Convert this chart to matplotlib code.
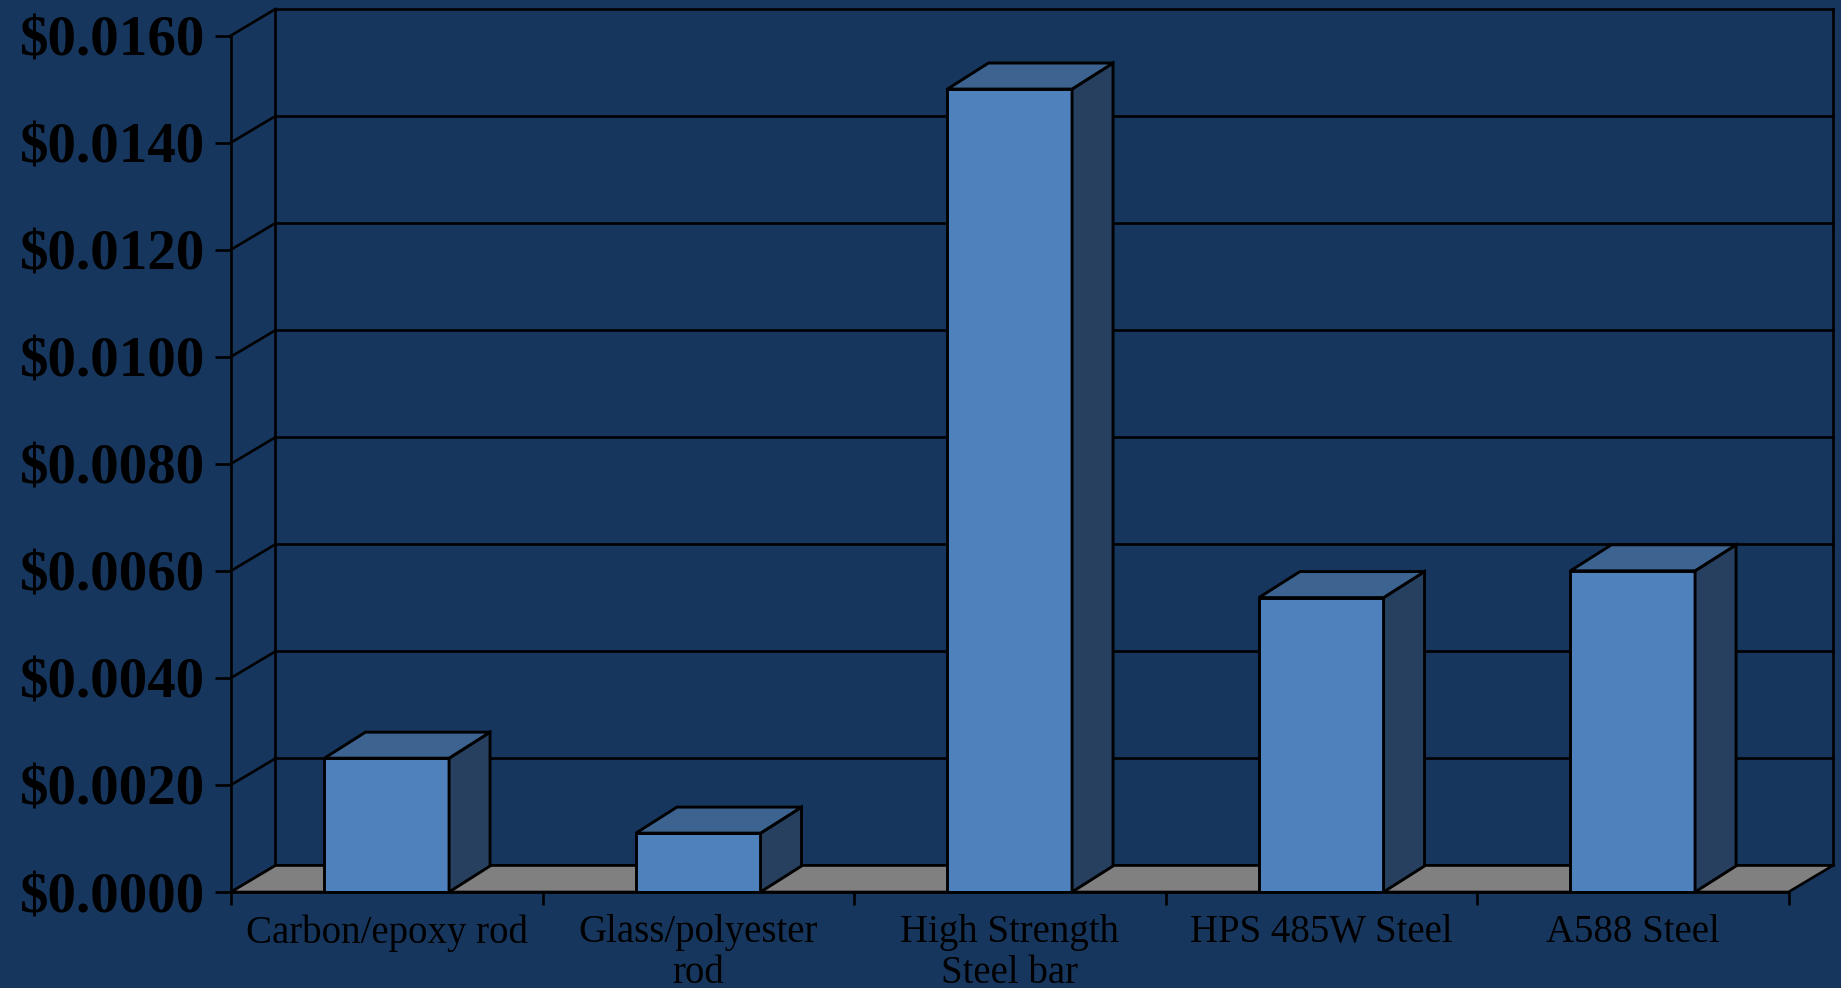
import matplotlib.pyplot as plt
from matplotlib.patches import Polygon
import numpy as np

# costo por unidad para cada material
materiales = ["Carbon/epoxy rod", "Glass/polyester\nrod", "High Strength\nSteel bar",
              "HPS 485W Steel", "A588 Steel"]
costos = [0.0025, 0.0011, 0.0150, 0.0055, 0.0060]
ticks_y = [0.0000, 0.0020, 0.0040, 0.0060, 0.0080, 0.0100, 0.0120, 0.0140, 0.0160]

fondo = "#17365D"
azul = "#4F81BD"
azul_top = "#3D6491"
azul_lado = "#27405F"
gris = "#808080"

W, H = 1841, 988
fig = plt.figure(figsize=(W / 100, H / 100), dpi=100, facecolor=fondo)

# caja de ejes: frente en x=231..1789 px, fondo desplazado 44 px a la derecha y 27 px arriba
x0, x1, y0, y1 = 231, 1833, 892, 9
ax = fig.add_axes([x0 / W, (H - y0) / H, (x1 - x0) / W, (y0 - y1) / H])
ax.set_facecolor("none")

n = len(materiales)
px_x = (1789 - x0) / n              # px por categoria
px_y = (y0 - 36) / ticks_y[-1]      # px por unidad de valor
prof_x, prof_y = 44.5 / px_x, 26.5 / px_y          # profundidad del piso/pared
bar_x, bar_y = 41 / px_x, 26 / px_y                # profundidad de las barras
ymax = ticks_y[-1]
ax.set_xlim(0, n + prof_x)
ax.set_ylim(0, ymax + prof_y)

lw = 1.9
# pared del fondo: lineas de grilla + diagonales al eje frontal
for t in ticks_y:
    ax.plot([0, prof_x], [t, t + prof_y], color="black", lw=lw, clip_on=False, zorder=1)
    ax.plot([prof_x, n + prof_x], [t + prof_y, t + prof_y], color="black", lw=lw,
            clip_on=False, zorder=1)
ax.plot([prof_x, prof_x], [prof_y, ymax + prof_y], color="black", lw=lw, clip_on=False, zorder=1)
ax.plot([n + prof_x, n + prof_x], [prof_y, ymax + prof_y], color="black", lw=lw,
        clip_on=False, zorder=1)

# piso gris
piso = Polygon([(0, 0), (n, 0), (n + prof_x, prof_y), (prof_x, prof_y)],
               closed=True, facecolor=gris, edgecolor="black", lw=lw, zorder=1.5,
               clip_on=False)
ax.add_patch(piso)

# barras 3D: cara frontal con ax.bar, tapa y lateral con poligonos
pos = np.arange(n) + 0.5
ancho = 0.4
ax.bar(pos, costos, width=ancho, color=azul, edgecolor="black", linewidth=lw * 1.1, zorder=3)
for xc, v in zip(pos, costos):
    izq, der = xc - ancho / 2, xc + ancho / 2
    tapa = Polygon([(izq, v), (der, v), (der + bar_x, v + bar_y), (izq + bar_x, v + bar_y)],
                   closed=True, facecolor=azul_top, edgecolor="black", lw=lw * 1.1, zorder=3)
    lado = Polygon([(der, 0), (der + bar_x, bar_y), (der + bar_x, v + bar_y), (der, v)],
                   closed=True, facecolor=azul_lado, edgecolor="black", lw=lw * 1.1, zorder=3)
    ax.add_patch(lado)
    ax.add_patch(tapa)

# ejes frontales
for s in ["top", "right"]:
    ax.spines[s].set_visible(False)
ax.spines["left"].set_bounds(0, ymax)
ax.spines["bottom"].set_bounds(0, n)
for s in ["left", "bottom"]:
    ax.spines[s].set_linewidth(lw)
    ax.spines[s].set_zorder(4)

ax.set_yticks(ticks_y)
ax.set_yticklabels(["$%.4f" % t for t in ticks_y], fontfamily="Liberation Serif",
                   fontweight="bold", fontsize=41)
ax.tick_params(axis="y", direction="out", length=11.5, width=lw, pad=7, colors="black")

ax.set_xticks(np.arange(n + 1))
ax.set_xticklabels([])
ax.tick_params(axis="x", which="major", direction="out", length=9.4, width=lw)
ax.set_xticks(pos, minor=True)
ax.set_xticklabels(materiales, minor=True, fontfamily="Liberation Serif", fontsize=28,
                   linespacing=1.15)
ax.tick_params(axis="x", which="minor", length=0, pad=16, colors="black")

fig.savefig("out.png", dpi=100, facecolor=fondo)
